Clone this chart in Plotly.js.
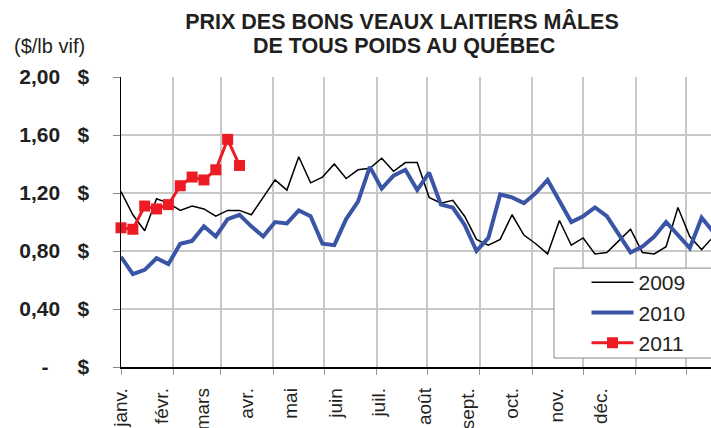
<!DOCTYPE html>
<html><head><meta charset="utf-8">
<script src="https://cdn.plot.ly/plotly-3.0.1.min.js"></script>
<style>html,body{margin:0;padding:0;background:#fff}#chart{width:711px;height:428px}</style>
</head><body><div id="chart"></div>
<script>
// Tick labels (months) and where they sit along the weekly axis
const monthLabels = ['janv.', 'févr.', 'mars', 'avr.', 'mai', 'juin', 'juil.', 'août', 'sept.', 'oct.', 'nov.', 'déc.'];
const monthLabelWeeks = [0.02, 3.46, 6.9, 10.6, 14.35, 18.1, 21.8, 25.6, 29.3, 33.0, 36.8, 40.5];
const monthLengths = [31, 28, 31, 30, 31, 30, 31, 31, 30, 31, 30, 31];

// Weekly prices ($/lb vif)
const prices2009 = [1.21, 1.05, 0.94, 1.16, 1.13, 1.08, 1.11, 1.09, 1.04, 1.08, 1.08, 1.05, 1.17, 1.29, 1.22, 1.45,
  1.27, 1.31, 1.40, 1.30, 1.36, 1.37, 1.44, 1.35, 1.41, 1.41, 1.17, 1.13, 1.15, 1.04, 0.88, 0.84, 0.88, 1.05,
  0.91, 0.85, 0.78, 1.01, 0.84, 0.89, 0.78, 0.79, 0.87, 0.95, 0.79, 0.78, 0.83, 1.10, 0.90, 0.81, 0.90];
const prices2010 = [0.76, 0.64, 0.67, 0.75, 0.71, 0.85, 0.87, 0.97, 0.90, 1.02, 1.05, 0.97, 0.90, 1.00, 0.99, 1.08,
  1.04, 0.85, 0.84, 1.02, 1.14, 1.38, 1.23, 1.32, 1.36, 1.22, 1.34, 1.12, 1.10, 0.98, 0.80, 0.89, 1.19, 1.17,
  1.13, 1.20, 1.29, 1.14, 1.00, 1.04, 1.10, 1.04, 0.91, 0.79, 0.83, 0.90, 1.00, 0.91, 0.82, 1.03, 0.93];
const prices2011 = [0.96, 0.95, 1.11, 1.09, 1.12, 1.25, 1.31, 1.29, 1.36, 1.57, 1.39];

const yTickValues = [0, 0.4, 0.8, 1.2, 1.6, 2.0];
const yTickLabels = ['-\u00a0\u00a0\u00a0\u00a0\u00a0$', '0,40\u00a0\u00a0\u00a0$', '0,80\u00a0\u00a0\u00a0$',
  '1,20\u00a0\u00a0\u00a0$', '1,60\u00a0\u00a0\u00a0$', '2,00\u00a0\u00a0\u00a0$'];

const weekIdx = arr => arr.map((_, i) => i);
const monthStarts = [];
let acc = 0;
for (const d of monthLengths) { monthStarts.push(acc / 7); acc += d; }

const FONT = 'Liberation Sans, Arial, sans-serif';
const TXT = '#231f20';

const traces = [
  {x: weekIdx(prices2009), y: prices2009, name: '2009', type: 'scatter', mode: 'lines',
   line: {color: '#000000', width: 1.5}},
  {x: weekIdx(prices2010), y: prices2010, name: '2010', type: 'scatter', mode: 'lines',
   line: {color: '#3a55a5', width: 4}},
  {x: weekIdx(prices2011), y: prices2011, name: '2011', type: 'scatter', mode: 'lines+markers',
   line: {color: '#ed1c24', width: 3}, marker: {symbol: 'square', size: 11, color: '#ed1c24'},
   cliponaxis: false}
];

const layout = {
  width: 711, height: 428,
  margin: {l: 121, r: 0, t: 77, b: 61},
  paper_bgcolor: '#ffffff', plot_bgcolor: '#ffffff',
  font: {family: FONT, color: TXT},
  title: {text: 'PRIX DES BONS VEAUX LAITIERS MÂLES', font: {size: 21.5, weight: 'bold', color: TXT, family: FONT},
    x: 0.5654, xref: 'container', xanchor: 'center', y: 0.9490, yref: 'container', yanchor: 'middle'},
  annotations: [
    {text: 'DE TOUS POIDS AU QUÉBEC', xref: 'paper', yref: 'paper', x: 0.479, y: 1.1100,
     xanchor: 'center', yanchor: 'middle', showarrow: false,
     font: {size: 21.5, weight: 'bold', color: TXT, family: FONT}},
    {text: '($/lb vif)', xref: 'paper', yref: 'paper', x: -0.122, y: 1.108,
     xanchor: 'center', yanchor: 'middle', showarrow: false,
     font: {size: 20, color: TXT, family: FONT}}
  ],
  xaxis: {
    range: [0, 49.79], fixedrange: true,
    showline: true, linecolor: '#000000', linewidth: 1.5,
    tickmode: 'array', tickvals: monthLabelWeeks, ticktext: monthLabels,
    ticks: '', tickangle: -90, tickfont: {size: 19, color: TXT, family: FONT},
    ticklabelstandoff: 12,
    showgrid: false, zeroline: false,
    minor: {tickmode: 'array', tickvals: monthStarts, ticks: 'outside', ticklen: 6,
      tickcolor: '#999999', tickwidth: 1, showgrid: true, gridcolor: '#c8c8c8', gridwidth: 2}
  },
  yaxis: {
    range: [0, 2], fixedrange: true,
    tickmode: 'array', tickvals: yTickValues, ticktext: yTickLabels,
    ticks: 'outside', ticklen: 7, tickcolor: '#888888', tickwidth: 1,
    tickfont: {size: 21, weight: 'bold', color: TXT, family: FONT},
    ticklabelstandoff: 19,
    showgrid: true, gridcolor: '#c8c8c8', gridwidth: 2,
    showline: true, linecolor: '#000000', linewidth: 1.5, zeroline: false
  },
  showlegend: true,
  legend: {x: 0.789, xanchor: 'left', y: 0.362, yanchor: 'top', bgcolor: 'rgba(0,0,0,0)',
    borderwidth: 0, font: {size: 21, color: TXT, family: FONT}, itemwidth: 42},
  shapes: [
    {type: 'rect', xref: 'paper', yref: 'paper', x0: 0.7339, x1: 1.2, y0: 0.031, y1: 0.341,
     line: {color: '#8a8a8a', width: 1}, fillcolor: '#ffffff', layer: 'above'}
  ]
};

Plotly.newPlot('chart', traces, layout, {staticPlot: true, displayModeBar: false});
</script>
</body></html>
